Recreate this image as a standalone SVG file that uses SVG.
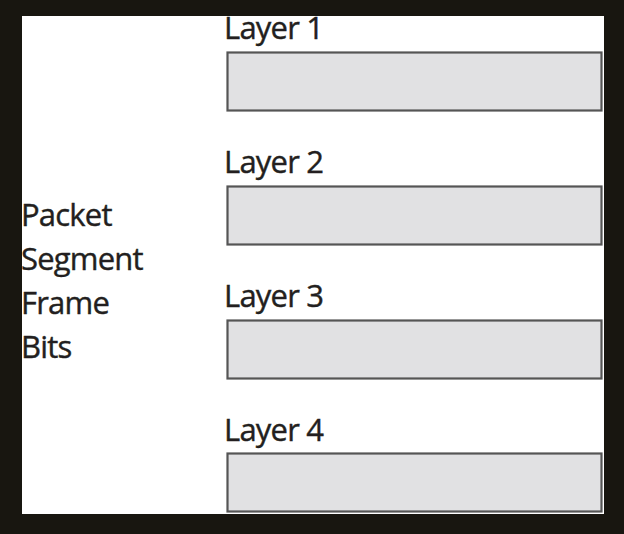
<svg xmlns="http://www.w3.org/2000/svg" width="624" height="534" viewBox="0 0 624 534">
<style>
.t{font-family:"Open Sans","Noto Sans",sans-serif;font-size:31px;fill:#231f20;stroke:#231f20;stroke-width:0.4;letter-spacing:-0.8px}
.box{fill:#e1e1e3;stroke:#555555;stroke-width:2.2}
</style>
<rect x="0" y="0" width="624" height="534" fill="#ffffff"/>
<g id="labels">
<text class="t" x="21" y="226">Packet</text>
<text class="t" x="21" y="270">Segment</text>
<text class="t" x="21" y="314">Frame</text>
<text class="t" x="21" y="358">Bits</text>
</g>
<g id="layer1">
<text class="t" x="224" y="39">Layer 1</text>
<rect class="box" x="227.5" y="52.5" width="374" height="58"/>
</g>
<g id="layer2">
<text class="t" x="224" y="173">Layer 2</text>
<rect class="box" x="227.5" y="186.5" width="374" height="58"/>
</g>
<g id="layer3">
<text class="t" x="224" y="307">Layer 3</text>
<rect class="box" x="227.5" y="320.5" width="374" height="58"/>
</g>
<g id="layer4">
<text class="t" x="224" y="441">Layer 4</text>
<rect class="box" x="227.5" y="453.5" width="374" height="58"/>
</g>
<g id="connectors"/>
<path d="M0 0H624V534H0Z M22 16V514H604V16Z" fill="#181610" fill-rule="evenodd"/>
</svg>
